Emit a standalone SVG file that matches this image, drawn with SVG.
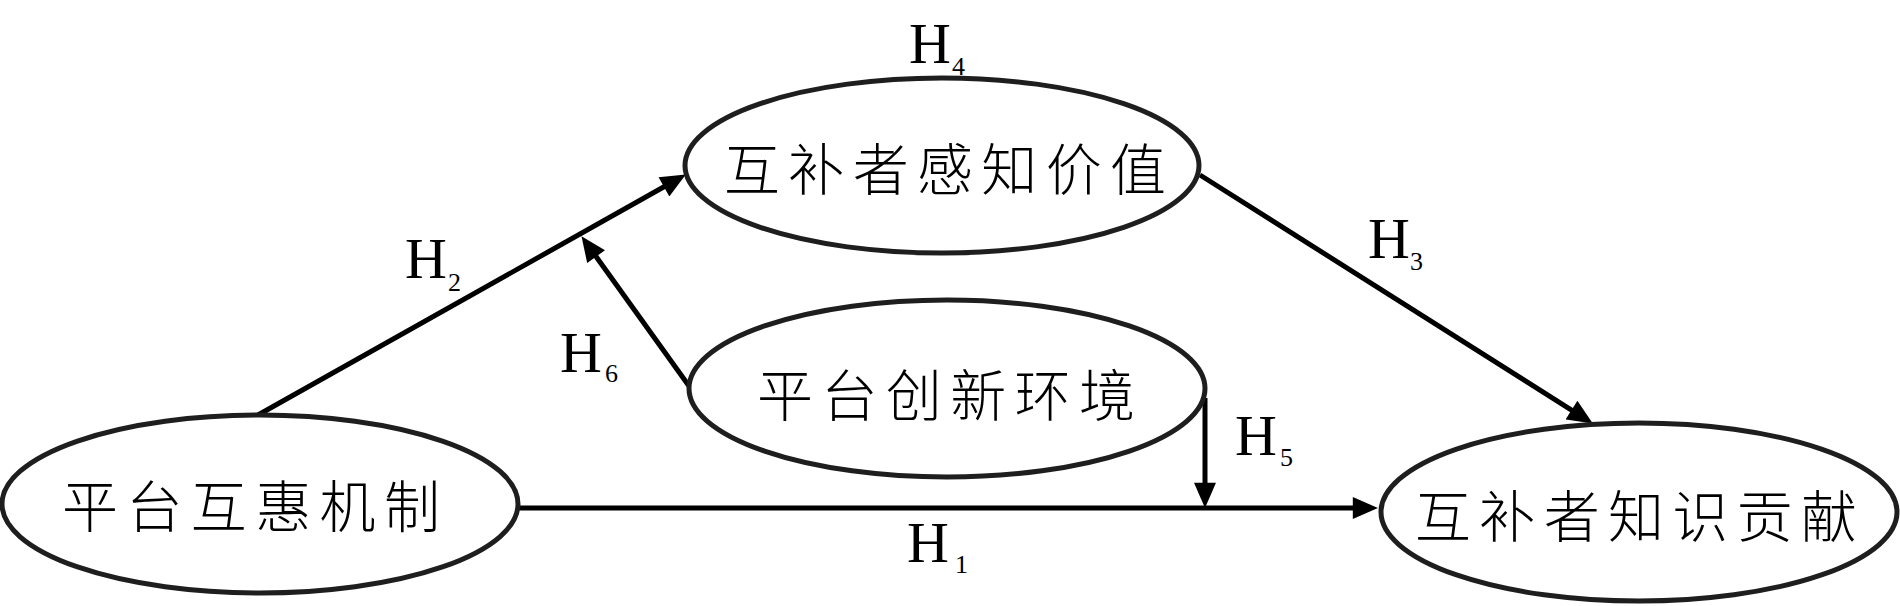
<svg xmlns="http://www.w3.org/2000/svg" width="1900" height="606" viewBox="0 0 1900 606">
<style>
.node{fill:#fff;stroke:#1e1e1e;stroke-width:5}
.lbl{font-family:"Liberation Serif","Noto Sans CJK SC",serif;font-size:58px;fill:#000}
.lbl .sub{font-size:26px}
.ntext{font-family:"Noto Sans CJK SC","Noto Sans CJK JP",sans-serif;font-size:56px;font-weight:300;fill:#000;text-anchor:middle;dominant-baseline:central}
.edge{stroke:#000;stroke-width:5;fill:none;marker-end:url(#arr)}
</style>
<defs>
<marker id="arr" markerUnits="userSpaceOnUse" markerWidth="26" markerHeight="22" refX="4" refY="10.5" orient="auto" viewBox="0 0 24 21">
<path d="M0,0 L24,10.5 L0,21 z" fill="#000"/>
</marker>
</defs>
<rect width="1900" height="606" fill="#fff"/>
<g id="connectors">
<line class="edge" x1="518" y1="508" x2="1357" y2="508"/>
<line class="edge" x1="258" y1="415" x2="667.6" y2="184.8"/>
<line class="edge" x1="1200" y1="175" x2="1575.1" y2="412.3"/>
<line class="edge" x1="1205" y1="398" x2="1205" y2="487"/>
<line class="edge" x1="689" y1="386" x2="593.7" y2="253.2"/>
</g>
<g id="labels">
<text class="lbl" x="907" y="562">H<tspan class="sub" x="955" y="573">1</tspan></text>
<text class="lbl" x="405" y="278">H<tspan class="sub" x="448" y="291">2</tspan></text>
<text class="lbl" x="1368" y="258">H<tspan class="sub" x="1410" y="270">3</tspan></text>
<text class="lbl" x="909" y="63">H<tspan class="sub" x="952" y="75">4</tspan></text>
<text class="lbl" x="1235" y="455">H<tspan class="sub" x="1280" y="466">5</tspan></text>
<text class="lbl" x="560" y="372">H<tspan class="sub" x="605" y="382">6</tspan></text>
</g>
<g id="n1">
<ellipse class="node" cx="260" cy="504" rx="258" ry="89"/>
<text class="ntext" x="251" y="502" textLength="378" lengthAdjust="spacing">平台互惠机制</text>
</g>
<g id="n2">
<ellipse class="node" cx="942" cy="165.5" rx="257" ry="87.5"/>
<text class="ntext" x="945" y="165" textLength="442" lengthAdjust="spacing">互补者感知价值</text>
</g>
<g id="n3">
<ellipse class="node" cx="1639" cy="512" rx="258" ry="89"/>
<text class="ntext" x="1636" y="512" textLength="442" lengthAdjust="spacing">互补者知识贡献</text>
</g>
<g id="n4">
<ellipse class="node" cx="947" cy="388.5" rx="258" ry="88.5"/>
<text class="ntext" x="946" y="391" textLength="378" lengthAdjust="spacing">平台创新环境</text>
</g>
</svg>
